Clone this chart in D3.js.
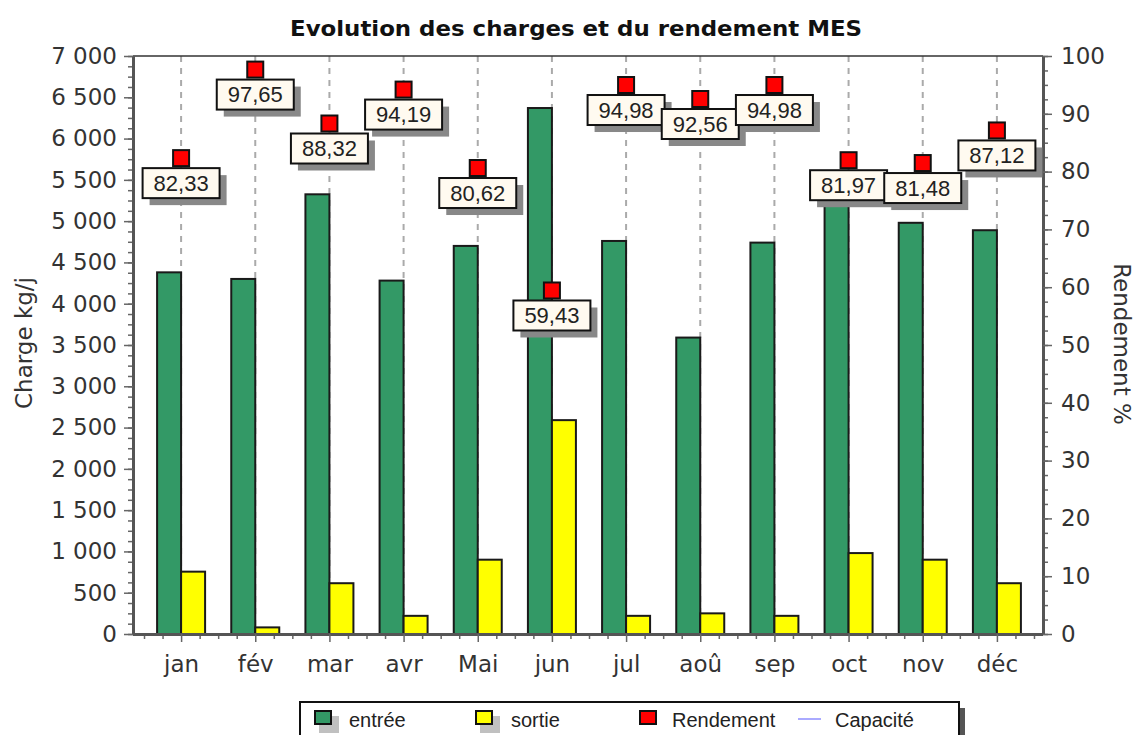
<!DOCTYPE html>
<html>
<head>
<meta charset="utf-8">
<script src="https://cdn.jsdelivr.net/npm/d3@7"></script>
<style>
  html, body { margin: 0; padding: 0; background: #fff; }
  svg { display: block; }
</style>
</head>
<body>
<svg id="chart" width="1139" height="735"></svg>
<script>
// ---- data ----
const months = ["jan", "fév", "mar", "avr", "Mai", "jun", "jul", "aoû", "sep", "oct", "nov", "déc"];
const entree = [4380, 4300, 5325, 4280, 4700, 6370, 4760, 3590, 4740, 5250, 4980, 4890];
const sortie = [755, 80, 615, 220, 900, 2590, 220, 250, 220, 980, 900, 615];
const rendement = [82.33, 97.65, 88.32, 94.19, 80.62, 59.43, 94.98, 92.56, 94.98, 81.97, 81.48, 87.12];
const rendementLabels = ["82,33", "97,65", "88,32", "94,19", "80,62", "59,43", "94,98", "92,56", "94,98", "81,97", "81,48", "87,12"];
const leftTicks = [0, 500, 1000, 1500, 2000, 2500, 3000, 3500, 4000, 4500, 5000, 5500, 6000, 6500, 7000];
const rightTicks = [0, 10, 20, 30, 40, 50, 60, 70, 80, 90, 100];
const legendItems = ["entrée", "sortie", "Rendement", "Capacité"];

// ---- layout ----
const L = 133, R = 1043, T = 56, B = 634;
const svg = d3.select("#chart");
const fmt = d3.formatLocale({decimal: ",", thousands: " ", grouping: [3], currency: ["", ""]}).format(",d");

const x = d3.scalePoint().domain(months).range([L + 1, R + 1]).padding(0.635);
const xi = d3.scaleLinear().domain([0, 11]).range([x(months[0]), x(months[11])]);
const yL = d3.scaleLinear().domain([0, 7000]).range([B, T]);
const yR = d3.scaleLinear().domain([0, 100]).range([B, T]);
const barW = 24;

// title
svg.append("text")
  .attr("x", 576).attr("y", 36)
  .attr("text-anchor", "middle")
  .attr("font-family", "DejaVu Sans").attr("font-weight", "bold")
  .attr("font-size", 22).attr("fill", "#111")
  .attr("textLength", 572).attr("lengthAdjust", "spacingAndGlyphs")
  .text("Evolution des charges et du rendement MES");

// gridlines
svg.append("g").selectAll("line").data(months).join("line")
  .attr("x1", d => x(d)).attr("x2", d => x(d))
  .attr("y1", T).attr("y2", B)
  .attr("stroke", "#aaa").attr("stroke-width", 2)
  .attr("stroke-dasharray", "6,6");

// bars
const bars = svg.append("g");
bars.selectAll("rect.e").data(months).join("rect").attr("class", "e")
  .attr("x", (d) => x(d) - barW).attr("width", barW)
  .attr("y", (d, i) => yL(entree[i])).attr("height", (d, i) => B - yL(entree[i]))
  .attr("fill", "#339966").attr("stroke", "#1a1a1a").attr("stroke-width", 2);
bars.selectAll("rect.s").data(months).join("rect").attr("class", "s")
  .attr("x", (d) => x(d)).attr("width", barW)
  .attr("y", (d, i) => yL(sortie[i])).attr("height", (d, i) => B - yL(sortie[i]))
  .attr("fill", "#ffff00").attr("stroke", "#1a1a1a").attr("stroke-width", 2);

// top frame
svg.append("line").attr("x1", L).attr("x2", R).attr("y1", T).attr("y2", T)
  .attr("stroke", "#333").attr("stroke-width", 1.5);

function styleAxis(g) {
  g.select(".domain").attr("stroke", "#555").attr("stroke-width", 3);
  g.selectAll(".tick line").attr("stroke", "#666").attr("stroke-width", 1.5);
  g.selectAll(".tick text").attr("font-family", "DejaVu Sans").attr("font-size", 23).attr("fill", "#333");
}

// left axis
svg.append("g").attr("transform", `translate(${L},0)`)
  .call(d3.axisLeft(yL).tickValues(d3.range(0, 7001, 125)).tickSize(5).tickSizeOuter(0).tickFormat(""))
  .call(styleAxis);
svg.append("g").attr("transform", `translate(${L},0)`)
  .call(d3.axisLeft(yL).tickValues(leftTicks).tickSize(9).tickSizeOuter(0).tickPadding(7).tickFormat(fmt))
  .call(styleAxis);

// right axis
svg.append("g").attr("transform", `translate(${R},0)`)
  .call(d3.axisRight(yR).tickValues(d3.range(0, 100.1, 2.5)).tickSize(5).tickSizeOuter(0).tickFormat(""))
  .call(styleAxis);
svg.append("g").attr("transform", `translate(${R},0)`)
  .call(d3.axisRight(yR).tickValues(rightTicks).tickSize(9).tickSizeOuter(0).tickPadding(9).tickFormat(d3.format("d")))
  .call(styleAxis);

// bottom axis
const bottomMinor = d3.range(-0.5, 11.51, 0.25).filter(v => Math.abs(v - Math.round(v)) > 0.01);
svg.append("g").attr("transform", `translate(0,${B})`)
  .call(d3.axisBottom(xi).tickValues(bottomMinor).tickSize(5).tickSizeOuter(0).tickFormat(""))
  .call(g => { g.select(".domain").remove(); g.selectAll(".tick line").attr("stroke", "#666").attr("stroke-width", 1.5); });
svg.append("g").attr("transform", `translate(0,${B})`)
  .call(d3.axisBottom(x).tickSize(8).tickSizeOuter(0).tickPadding(14))
  .call(g => {
    g.select(".domain").attr("d", `M${L},0.5H${R}`);
  })
  .call(styleAxis);

// axis titles
svg.append("text")
  .attr("transform", "translate(32,343) rotate(-90)")
  .attr("text-anchor", "middle")
  .attr("font-family", "DejaVu Sans").attr("font-size", 23).attr("fill", "#333")
  .text("Charge kg/j");
svg.append("text")
  .attr("transform", "translate(1114,344) rotate(90)")
  .attr("text-anchor", "middle")
  .attr("font-family", "DejaVu Sans").attr("font-size", 23).attr("fill", "#333")
  .text("Rendement %");

// rendement markers + labels
const lab = svg.append("g");
months.forEach((m, i) => {
  const g = lab.append("g").attr("transform", `translate(${x(m)},${yR(rendement[i])})`);
  g.append("rect").attr("x", -38.5 + 7).attr("y", 10 + 7).attr("width", 77).attr("height", 30).attr("fill", "#888");
  g.append("rect").attr("x", -38.5).attr("y", 10).attr("width", 77).attr("height", 30)
    .attr("fill", "#fffaf0").attr("stroke", "#111").attr("stroke-width", 2);
  g.append("text").attr("x", 0).attr("y", 25).attr("dy", "0.36em")
    .attr("text-anchor", "middle")
    .attr("font-family", "Liberation Sans").attr("font-size", 22).attr("fill", "#222")
    .text(rendementLabels[i]);
  g.append("rect").attr("x", -8).attr("y", -8).attr("width", 16).attr("height", 16)
    .attr("fill", "#ff0000").attr("stroke", "#111").attr("stroke-width", 2);
});

// legend
const lg = svg.append("g");
lg.append("rect").attr("x", 306).attr("y", 708).attr("width", 659).attr("height", 60).attr("fill", "#555");
lg.append("rect").attr("x", 300).attr("y", 702).attr("width", 659).attr("height", 60)
  .attr("fill", "#fff").attr("stroke", "#111").attr("stroke-width", 2);
const lx = [315, 476, 640, 798];
const tx = [349, 511, 672, 835];
const fills = ["#339966", "#ffff00", "#ff0000"];
[0, 1].forEach(i => {
  lg.append("rect").attr("x", lx[i] + 4).attr("y", 716).attr("width", 20).attr("height", 17).attr("fill", "#c0c0c0");
});
[0, 1, 2].forEach(i => {
  lg.append("rect").attr("x", lx[i]).attr("y", 711).attr("width", 16).attr("height", 13)
    .attr("fill", fills[i]).attr("stroke", "#111").attr("stroke-width", 2);
});
lg.append("line").attr("x1", lx[3]).attr("x2", lx[3] + 23).attr("y1", 719).attr("y2", 719)
  .attr("stroke", "#aaaaff").attr("stroke-width", 2);
legendItems.forEach((t, i) => {
  lg.append("text").attr("x", tx[i]).attr("y", 727)
    .attr("font-family", "Liberation Sans").attr("font-size", 20).attr("fill", "#222")
    .text(t);
});
</script>
</body>
</html>
